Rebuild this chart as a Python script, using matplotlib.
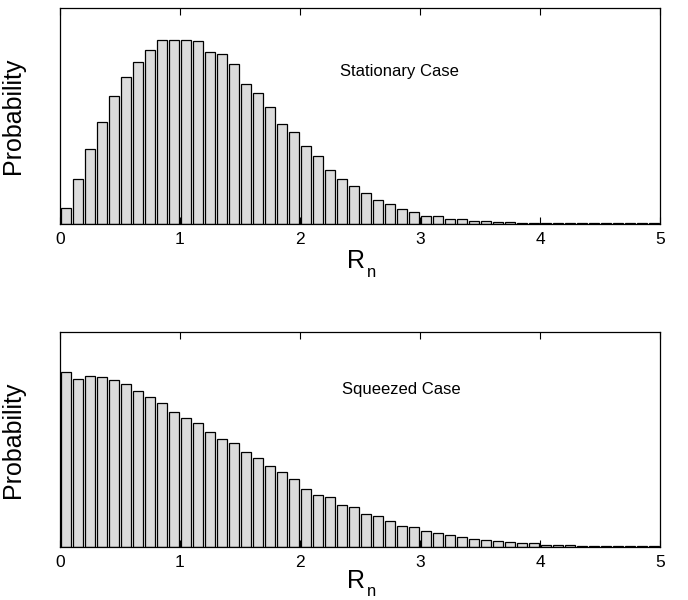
import matplotlib
matplotlib.use('Agg')
import matplotlib.pyplot as plt
import numpy as np

plt.rcParams['font.family'] = ['Liberation Sans', 'DejaVu Sans']

# bin edges run 0..5 in steps of 0.1, heights are relative
bin_width = 0.1
stationary = [48, 136, 225, 305, 383, 440, 485, 521, 551, 552,
              552, 550, 515, 509, 480, 419, 394, 352, 299, 276,
              234, 204, 161, 134, 114, 92, 73, 59, 45, 37,
              25, 23, 14, 14, 10, 8, 6, 5, 4, 3,
              3, 3, 3, 3, 3, 3, 3, 3, 3, 3]
squeezed = [525, 505, 512, 511, 502, 490, 468, 449, 433, 406,
            386, 373, 344, 324, 313, 286, 268, 244, 226, 205,
            175, 157, 149, 127, 121, 99, 93, 78, 64, 59,
            47, 43, 37, 30, 25, 20, 18, 14, 13, 11,
            7, 6, 6, 4, 4, 3, 3, 3, 3, 3]
xticks = [0, 1, 2, 3, 4, 5]

panels = [
    (stationary, 'Stationary Case', [0.0872, 0.6267, 0.872, 0.36], 648,
     (2.333, 0.708), (-0.204, -0.245)),
    (squeezed, 'Squeezed Case', [0.0872, 0.0883, 0.872, 0.359], 646,
     (2.35, 0.733), (-0.188, -0.228)),
]

fig = plt.figure(figsize=(6.88, 6.0), dpi=100)

for vals, label, rect, ytop, txtpos, rpos in panels:
    ax = fig.add_axes(rect)
    centers = (np.arange(len(vals)) + 0.5) * bin_width
    ax.bar(centers, vals, width=0.082, color='#dcdcdc',
           edgecolor='black', linewidth=0.9)
    ax.set_xlim(0, 5)
    ax.set_ylim(0, ytop)
    ax.set_xticks(xticks)
    ax.set_yticks([])
    ax.tick_params(axis='x', direction='in', top=True, length=5,
                   labelsize=12.5, pad=6, color='black')
    for s in ax.spines.values():
        s.set_linewidth(0.9)
    ax.set_ylabel('Probability', fontsize=18)
    ax.yaxis.set_label_coords(-0.058, 0.5)
    # R with a low-set subscript n, as in the original
    ax.text(0.478, rpos[0], 'R', fontsize=18, va='baseline', ha='left',
            transform=ax.transAxes)
    ax.text(0.511, rpos[1], 'n', fontsize=12, va='baseline', ha='left',
            transform=ax.transAxes)
    ax.text(txtpos[0], txtpos[1], label, fontsize=12, va='center',
            ha='left', transform=ax.get_xaxis_transform())

plt.savefig('out.png', dpi=100)
